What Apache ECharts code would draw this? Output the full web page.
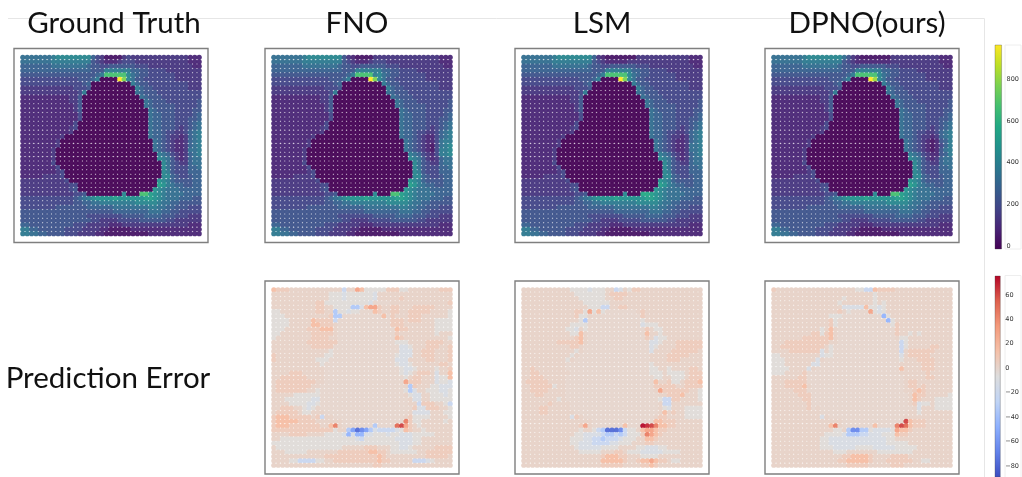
<!DOCTYPE html>
<html><head><meta charset="utf-8">
<style>html,body{margin:0;padding:0;background:#fff}#c{width:1022px;height:477px;filter:blur(0.45px)}</style>
<script src="https://cdn.jsdelivr.net/npm/echarts@6/dist/echarts.min.js"></script>
</head><body><div id="c"></div>
<script>
// Field rows: 41 rows of 41 cells. Field code c -> parseInt(c,36)*50
const groundTruthRows = [
"7777777899 9999996431 1113433333 3333333322 2",
"7777777888 8888885432 2234443333 3333333322 2",
"6666666777 7777765544 5555554443 3333333332 2",
"6666666666 6666665558 8888866554 4443333333 3",
"5555555555 555555568e eeee976554 4444433333 3",
"4444444444 4445556800 00kg975544 4444433333 3",
"4444444444 4444560000 0000086554 4444444433 3",
"3333333333 3344450000 0000008655 4444444433 3",
"3333333333 3334800000 0000007655 5444444444 4",
"2222222222 2335000000 0000000765 5544444444 4",
"2222222222 2335000000 0000000076 5554444444 5",
"2222222222 2235000000 0000000076 5555544444 5",
"2222222222 2235000000 0000000007 6555544445 5",
"2222222222 2224000000 0000000007 6655544445 6",
"2222222222 2224000000 0000000007 6655544455 6",
"2222222222 2240000000 0000000007 6655544456 7",
"2222222222 2340000000 0000000007 6655543456 7",
"2222222222 2300000000 0000000007 6654433467 8",
"2222222223 0000000000 0000000007 6654332367 8",
"2222222230 0000000000 0000000000 7654322367 8",
"2222222230 0000000000 0000000000 7654322367 8",
"2222222300 0000000000 0000000000 7654322377 8",
"2222222300 0000000000 0000000000 0876432367 8",
"2222222300 0000000000 0000000000 0987532367 7",
"2222222400 0000000000 0000000000 0097543367 7",
"2222222240 0000000000 0000000000 0097544466 7",
"2222222234 0000000000 0000000000 0098544466 6",
"2222233334 0000000000 0000000000 0099654456 6",
"3333333333 4000000000 0000000000 0a98655556 6",
"3333333333 3440000000 0000000000 0ba8766556 6",
"3333333333 3450000000 0000000000 a987776666 6",
"3333333333 3344500000 0009000eeb a987777666 6",
"4444444444 4456789aaa abaaaaaabb a987776665 5",
"4444444444 4455667788 8888889999 9877665555 5",
"4444444455 5555566666 6777777778 8776655544 4",
"5555555555 5555555555 5666666667 7766554444 4",
"5555555555 5555544444 4445555566 6655544433 3",
"5555555555 5555554433 3344444555 5554433333 3",
"6655555555 5544433333 2223333333 3333333322 2",
"8866555555 4444333322 1111122222 2222222222 2",
"8877665555 4443333221 1111111112 2222222222 2"
];
// Rows in which each model's prediction differs visibly from the ground truth
const fnoRowChanges = {
0:"7777777899 9999995321 1113333333 3333333322 2",
4:"5555555555 555555568e eee8976554 4444433333 3",
18:"2222222223 0000000000 0000000007 6654322467 8",
19:"2222222230 0000000000 0000000000 7654322478 8",
20:"2222222230 0000000000 0000000000 7654321478 9",
21:"2222222300 0000000000 0000000000 7654321488 9",
22:"2222222300 0000000000 0000000000 0876432488 9"
};
const lsmRowChanges = {
0:"7777777899 9999996321 1111113333 3333333322 2",
1:"7777777888 8888885432 2222333333 3333333322 2",
31:"3333333333 3344500000 0009000ccb a987777666 6",
20:"2222222230 0000000000 0000000000 7654322377 8"
};
const dpnoRowChanges = {
0:"7777777899 9999997532 1111111333 3333333322 2",
1:"7777777888 8888885432 2222222333 3333333322 2",
5:"4444444444 4445556800 00kh975544 4444433333 3",
19:"2222222230 0000000000 0000000000 7654321256 8",
20:"2222222230 0000000000 0000000000 7654321246 8",
21:"2222222300 0000000000 0000000000 7654321257 8",
22:"2222222300 0000000000 0000000000 0876432256 8"
};
// Error rows. Code table below turns each letter into an error value.
const errorCodes = {"0":0,"1":2,"2":7,"3":16,"4":30,"5":45,"6":52,"7":62,"8":68,"9":75,a:-5,b:-11,c:-22,d:-34,e:-46,f:-56,g:-66,h:-78};
const fnoErrorRows = [
"3222111111 111111c114 3aaaaa222a a111111122 2",
"1111111111 111aaabaaa aaab111111 1111111111 1",
"1111111111 111aaabaaa aaab111112 1111111111 1",
"1111111111 22aaaaaaaa aab0000111 1111111111 2",
"1111111111 2211aaaadd b344211221 1122222111 1",
"aa11111111 2211daabaa 0003211221 1222221111 a",
"aaa1111111 1112dd0000 0000030211 1222111111 a",
"aaaa111113 2222c00000 0000000222 1222111aaa a",
"aaaa111113 3222100000 0000000222 1111111aaa a",
"aaa1111122 2333100000 0000000032 2111111aaa a",
"aa11111112 2222100000 0000000021 1111111a11 1",
"a111111112 2221100000 0000000032 1111111111 a",
"1111111122 2222200000 00000000aa a111122221 1",
"1111111112 2222000000 000000000b ba11122211 2",
"1111111111 111a000000 000000000b bb11222111 2",
"2111111111 11aa000000 00000000ab bb11222111 2",
"2111111111 aaa0000000 00000000bb b111122111 2",
"1111111111 1a00000000 00000000ab ba11111122 1",
"1111111111 1100000000 000000000a bba1111a11 2",
"1111222111 1100000000 000000000a ba12221b11 3",
"1122222211 1100000000 0000000000 a122111baa 3",
"1222222222 1100000000 0000000000 4222111baa b",
"1222222221 1000000000 0000000000 1d2111aabb b",
"1222222211 a000000000 0000000000 adb11aaabb a",
"11111aaaaa a000000000 0000000000 1abb11aaab a",
"111aaaaaab b000000000 0000000000 01bb11aaaa a",
"1111aaaabb a000000000 0000000000 011c22211a c",
"1122211aba 1000000000 0000000000 002bb22211 a",
"1222221aa1 1100000000 0000000000 01bbbb111a a",
"2333222221 2c11000000 0000000000 12aaaa1111 a",
"2333332222 1111110000 0000000000 52aa11111a 1",
"2333222222 2113510000 000d000067 421a111111 1",
"2222222222 2222a11dfh gfdbccccba 3211a11111 1",
"1111222211 11aaaabebe ebbaaabaab bbaaaaa111 1",
"11aaaaaaaa aaaaaaaaab caaaaaaabb bbaa111111 1",
"aaaaaaaaaa aaaaaaaaaa aaaaaaaaab bbaa111111 1",
"1aaaaaaaaa aaaaaa1111 1222111aab ba11111222 2",
"111aaaaa11 1111122222 2233221aaa aaa1122222 2",
"1111111111 1122222222 2222321111 1111122222 1",
"1111aacccc aa11222222 2222322111 11cccba111 1",
"1111111111 1111111111 1112211111 1111111111 1"
];
const lsmErrorRows = [
"1111111111 1aaaabaaa1 1cb1a22111 1111111111 1",
"1111111111 11aaaaaaa1 2222111111 1111111111 1",
"1111111111 111aaaaaa1 1221111111 1111111111 1",
"1111111111 1111aaaaaa 1111111111 1111111111 1",
"1111111111 11111aaacc 1122111111 1111111111 1",
"1111111111 1122a4a3a0 0000001211 1111111111 1",
"1111111111 112aa10000 0000000211 1111111111 1",
"1111111111 111ad00000 0000000a11 1111111111 1",
"1111111111 1aaaa00000 0000000baa a111111111 1",
"1111111111 aab1a00000 0000000021 aa11111111 1",
"1111111111 1aa3100000 0000000031 1a11111111 1",
"1111111111 1123100000 0000000021 baa1111111 1",
"1111111122 2223100000 000000000b ba11122222 2",
"1111111111 1221000000 000000000b a111122222 2",
"1111111111 11a1000000 000000000b 1111222222 1",
"1111111111 1a10000000 0000000001 1112222211 1",
"1111111111 a100000000 0000000001 1112221111 1",
"1111111111 0000000000 000000000a 1111111111 1",
"1121111111 0000000000 000000000a a11a111122 1",
"1122111111 1000000000 000000000a aa1aaaa122 2",
"1122211111 0000000000 0000000000 aa11aaa122 2",
"1222221111 0000000000 0000000000 3112aa1222 3",
"1122222a11 0000000000 0000000000 2222211222 2",
"1122221111 0000000000 0000000000 1422222211 a",
"1112211111 0000000000 0000000000 0112223111 a",
"11111111a1 0000000000 0000000000 0acc221111 a",
"1111112111 1000000000 0000000000 01cc111111 1",
"1111221111 1000000000 0000000000 01ab111aaa a",
"1111221111 1100000000 0000000000 0131211aaa a",
"1111111111 1b21000000 0000000000 1221111aaa a",
"1111111111 1111110000 0000000000 3322211111 1",
"1111111111 1112410000 0003000987 5332211111 1",
"1111111111 111a11acdh hhgcaa1344 3221111111 1",
"1111111111 11aabbbbcd dcdcaaa254 3211111111 1",
"1111111111 1aaabbccdc ccbaaa1133 2111111111 1",
"1111111111 1aabbbcccc bbaaa11122 1111111111 1",
"1111111111 11abbbbbaa aa1111aabb baa1111111 1",
"1111111111 111aaaaa11 1221aaabbb bbaaaa1111 1",
"1111111111 1111111123 3322111aaa a111111111 1",
"1111111111 1111111133 3332112334 3221aa1111 1",
"1111111111 1111111122 2221111223 2111111111 1"
];
const dpnoErrorRows = [
"2111111111 111111111a acc3222211 1111111111 1",
"1111111111 1111111111 111a111111 1111111111 1",
"1111111111 111111a111 111a111111 1111111111 1",
"1111111111 11111a1111 111a1a1111 1111111111 1",
"1111111111 111111bbbb b3aaba1111 1111111111 1",
"1111111111 1111121a00 004aba1111 1111111111 1",
"1111111111 111aaa0000 00000ea111 1111111111 1",
"1111111111 1112a00000 000000ea11 1111111111 1",
"1111111111 1112a00000 0000000a21 1111111111 1",
"1111111111 1a13100000 0000000021 1111111111 1",
"1111111112 2a23100000 0000000021 1a1a111111 1",
"1111111222 2223100000 000000001a a111111111 1",
"1112222222 2221100000 000000000c a111111111 1",
"1122222222 221a000000 000000000c a111112211 1",
"1111222222 2b1a000000 000000000c 1222222111 1",
"aa11111111 1baa000000 000000000b 1222221111 1",
"aaa1111111 b100000000 000000000a 1112222111 1",
"aaa111111b b000000000 0000000001 1111222111 1",
"aaaa1111b1 0000000000 0000000003 1111222111 1",
"aaa1111200 0000000000 0000000001 1111121111 1",
"1111112200 0000000000 0000000000 1111122111 1",
"1112222200 0000000000 0000000000 1221111111 1",
"1112222310 0000000000 0000000000 1221211111 1",
"1111122200 0000000000 0000000000 1123211111 1",
"1111112220 0000000000 0000000000 0132211111 a",
"1111111220 0000000000 0000000000 0132111aaa a",
"1111111120 0000000000 0000000000 012baa1aaa a",
"1111111120 1000000000 0000000000 001b111aaa a",
"1111111111 1000000000 0000000000 011a111111 1",
"1111111111 1b10000000 0000000000 1111111111 1",
"1111111111 1111110000 0000000000 7322211111 1",
"1111111111 1113510000 0003000057 6322211111 1",
"1111111111 1111aa1dgg ddabbbba43 3211111111 1",
"1111111111 11aaaabddd ccbbbaaa32 2111111111 1",
"1111111111 1aabbbbbbb bbbbbbaa11 1111111111 1",
"1111111111 1aabbbbbbb bbbbbbaaaa a111111111 1",
"1111111111 1aaabbbbba aaabbbbbaa aaa1111111 1",
"1111111111 1111aaa111 1111aaaaaa aa11111111 1",
"1111111111 1111112233 3321111222 2111111111 1",
"1111111111 1111122333 3321112222 2211aa1111 1",
"1111111111 1111111222 2211111222 1111111111 1"
];
const columnTitles = ["Ground Truth","FNO","LSM","DPNO(ours)"];
const rowTitle = "Prediction Error";
const fieldTicks = [0,200,400,600,800];
const errorTicks = [-80,-60,-40,-20,0,20,40,60];
const viridis = ["#440154","#482475","#414487","#355f8d","#2a788e","#21918c","#22a884","#44bf70","#7ad151","#bddf26","#fde725"];
const coolwarm = ["#3b4cc0","#6282ea","#8db0fe","#c0d4f5","#dddddd","#f5c1a9","#f49a7b","#de604d","#b40426"];

const fieldValue = c => Math.min(980, parseInt(c,36)*49);
function toPoints(rows, decode){
  const pts=[];
  rows.forEach((r,j)=>{ const s=r.replace(/ /g,''); for(let i=0;i<41;i++){ pts.push([i,j,decode(s[i]||s[s.length-1])]); } });
  return pts;
}
const withChanges=(base,ch)=>base.map((r,j)=>ch[j]||r);
const errVal=c=>errorCodes[c];
const panels=[
 {x:14, y:48.5,h:194,rows:groundTruthRows,d:fieldValue,vm:0},
 {x:265,y:48.5,h:194,rows:withChanges(groundTruthRows,fnoRowChanges),d:fieldValue,vm:0},
 {x:515,y:48.5,h:194,rows:withChanges(groundTruthRows,lsmRowChanges),d:fieldValue,vm:0},
 {x:765,y:48.5,h:194,rows:withChanges(groundTruthRows,dpnoRowChanges),d:fieldValue,vm:0},
 {x:265,y:281,h:193,rows:fnoErrorRows,d:errVal,vm:1},
 {x:515,y:281,h:193,rows:lsmErrorRows,d:errVal,vm:1},
 {x:765,y:281,h:193,rows:dpnoErrorRows,d:errVal,vm:1}
];
const grid=[],xAxis=[],yAxis=[],series=[];
panels.forEach((p,k)=>{
  grid.push({left:p.x,top:p.y,width:194,height:p.h,show:true,borderColor:'#7f7f7f',borderWidth:1.4,backgroundColor:'#fff'});
  xAxis.push({type:'value',gridIndex:k,min:-2,max:42,show:false});
  yAxis.push({type:'value',gridIndex:k,min:-2,max:42,inverse:true,show:false});
  series.push({type:'scatter',xAxisIndex:k,yAxisIndex:k,symbol:'circle',symbolSize:5.2,data:toPoints(p.rows,p.d),silent:true,animation:false,progressive:0,itemStyle:{opacity:0.94}});
});
function colorbar(k,top,h,min,max,stops,ticks){
  grid.push({left:995,top:top,width:10,height:h,show:false});
  xAxis.push({type:'value',gridIndex:k,min:0,max:1,show:false});
  yAxis.push({type:'value',gridIndex:k,position:'right',min:min,max:max,scale:true,
    axisLine:{show:false},splitLine:{show:false},axisTick:{show:false},
    axisLabel:{customValues:ticks,margin:5,fontSize:6.5,color:'#333',fontFamily:'DejaVu Sans',hideOverlap:false,showMinLabel:true,showMaxLabel:true,
      formatter:v=>String(v).replace('-','\u2212')}});
  series.push({type:'custom',xAxisIndex:k,yAxisIndex:k,silent:true,animation:false,clip:false,data:[[0,min,1,max]],
    renderItem:(params,api)=>{
      const a=api.coord([api.value(0),api.value(3)]),b=api.coord([api.value(2),api.value(1)]);
      return {type:'rect',shape:{x:a[0],y:a[1],width:b[0]-a[0],height:b[1]-a[1]},
        style:{stroke:'rgba(70,70,70,.55)',lineWidth:.6,fill:new echarts.graphic.LinearGradient(0,1,0,0,stops.map((c,i)=>({offset:i/(stops.length-1),color:c})))}};
    }});
}
colorbar(7,45,204,-12,963,viridis,fieldTicks);
colorbar(8,276,201,-89,75.4,coolwarm,errorTicks);

const titleStyle={fontFamily:'Lato',fontSize:29.5,fontWeight:400,color:'#111'};
const titles=[109,352,597,862].map((cx,i)=>({text:columnTitles[i],left:cx,top:3,textAlign:'center',textStyle:titleStyle}));
titles.push({text:rowTitle,left:103,top:358,textAlign:'center',textStyle:titleStyle});

const chart=echarts.init(document.getElementById('c'),null,{renderer:'canvas',width:1022,height:477});
chart.setOption({
  animation:false,backgroundColor:'#fff',title:titles,grid,xAxis,yAxis,series,
  visualMap:[
    {show:false,type:'continuous',min:0,max:980,dimension:2,seriesIndex:[0,1,2,3],inRange:{color:viridis}},
    {show:false,type:'continuous',min:-89,max:75.4,dimension:2,seriesIndex:[4,5,6],inRange:{color:coolwarm}}
  ],
  graphic:[
    {type:'polyline',z:-1,shape:{points:[[8,18.5],[984.5,18.5],[984.5,477]]},style:{fill:null,stroke:'#e6e6e6',lineWidth:1}},
    {type:'rect',z:-1,shape:{x:1005,y:45,width:16,height:204},style:{fill:null,stroke:'#eeeeee',lineWidth:1}},
    {type:'rect',z:-1,shape:{x:1005,y:275.5,width:16,height:210},style:{fill:null,stroke:'#eeeeee',lineWidth:1}}
  ]
});
</script></body></html>
